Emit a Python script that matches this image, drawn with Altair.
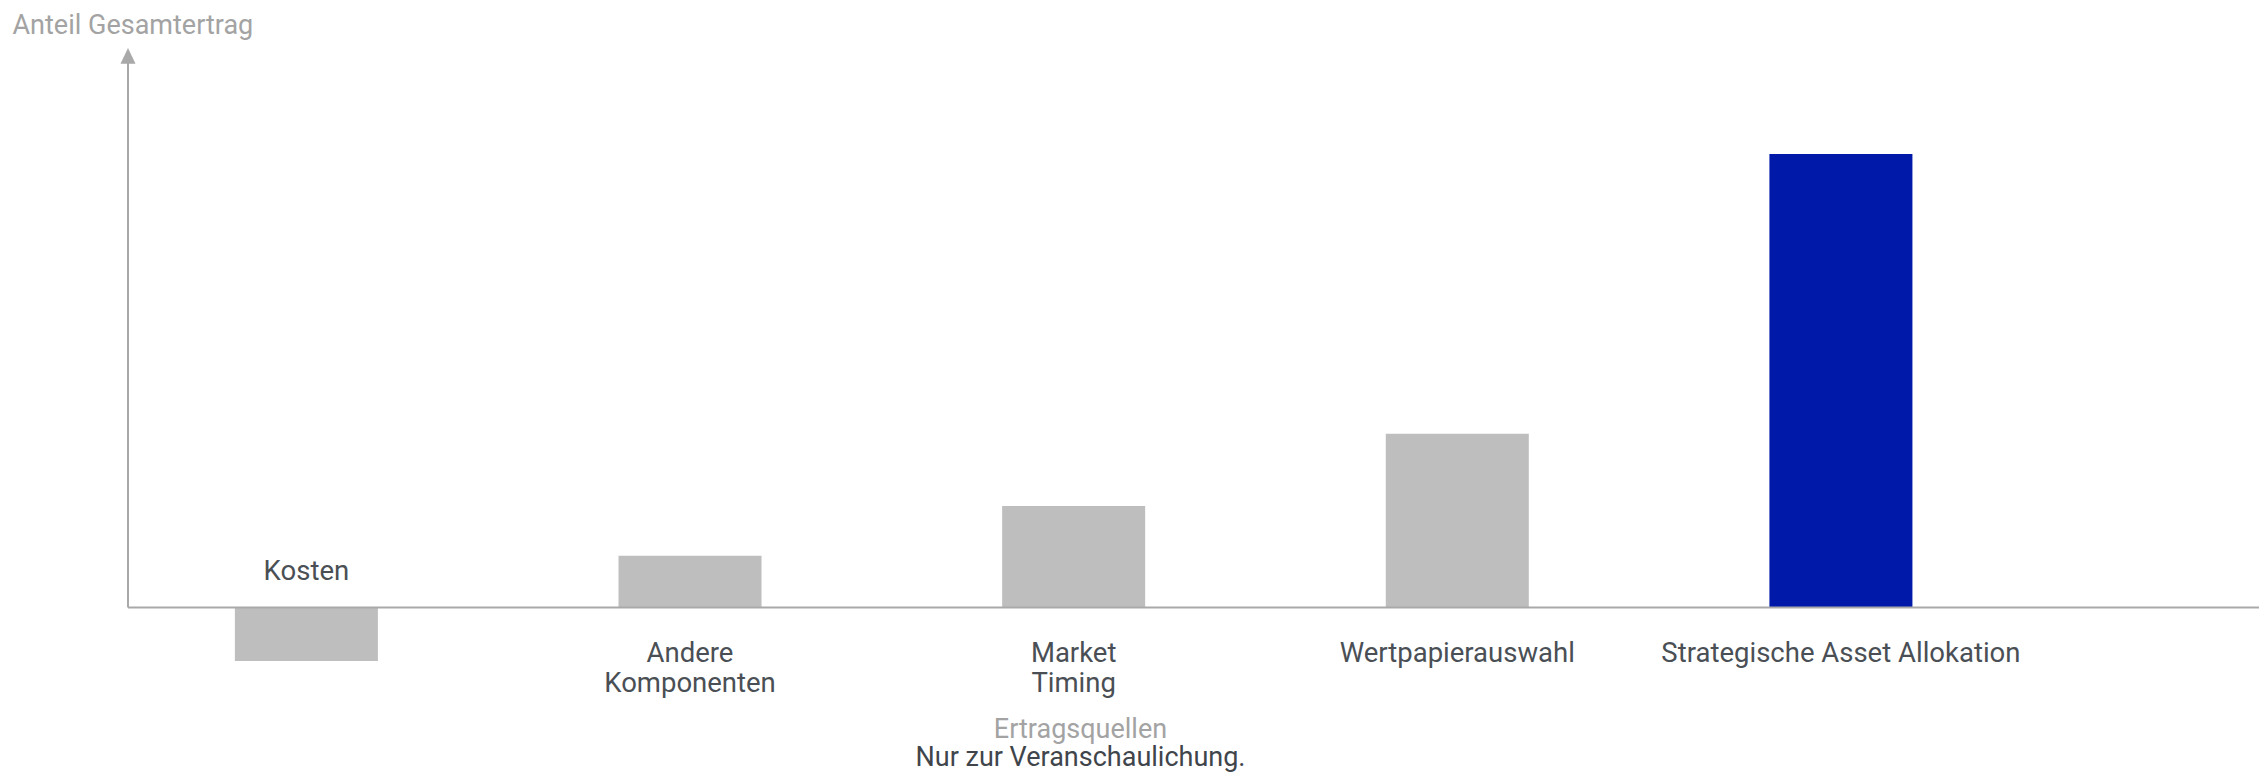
import altair as alt
import pandas as pd

# ---- data ----
categories = ["Kosten", "Andere Komponenten", "Market Timing", "Wertpapierauswahl", "Strategische Asset Allokation"]
labels = ["Kosten", "Andere\nKomponenten", "Market\nTiming", "Wertpapierauswahl", "Strategische Asset Allokation"]
values = [-11.8, 11.4, 22.4, 38.3, 100.0]
groups = ["other", "other", "other", "other", "highlight"]

y_title = "Anteil Gesamtertrag"
x_title = "Ertragsquellen"
note = "Nur zur Veranschaulichung."

Y_MIN, Y_MAX = -20.4, 123.4

df = pd.DataFrame({"cat": categories, "label": labels, "value": values, "group": groups})

W, H = 2131, 652
FONT = "Roboto"
LABEL_COLOR = "#4a4f55"
GRAY_TEXT = "#a3a3a3"
AXIS_COLOR = "#a9a9a9"

x_enc = alt.X("cat:N", sort=categories, axis=None,
              scale=alt.Scale(paddingInner=0.6272, paddingOuter=0.591, align=0.2357))
y_scale = alt.Scale(domain=[Y_MIN, Y_MAX], nice=False, zero=False)

base = alt.Chart(df)

bars = base.mark_bar().encode(
    x=x_enc,
    y=alt.Y("value:Q", scale=y_scale,
            axis=alt.Axis(title=y_title, labels=False, ticks=False, domain=False, grid=False,
                          titleAngle=0, titleX=-116, titleY=-15, titleAlign="left",
                          titleBaseline="alphabetic", titleFontSize=27, titleFont=FONT,
                          titleFontWeight="normal", titleColor=GRAY_TEXT)),
    y2=alt.datum(0),
    color=alt.Color("group:N", scale=alt.Scale(domain=["other", "highlight"],
                                               range=["#bebebe", "#0019a8"]), legend=None),
)

xaxis = base.mark_rule(color=AXIS_COLOR, strokeWidth=2).encode(
    y=alt.datum(0), x=alt.value(0), x2=alt.value(W)
).transform_filter("datum.cat == 'Kosten'")

yaxis = base.mark_rule(color=AXIS_COLOR, strokeWidth=2).encode(
    x=alt.value(0), y=alt.datum(0), y2=alt.datum(Y_MAX - 3)
).transform_filter("datum.cat == 'Kosten'")

arrow = base.mark_point(shape="M0,0L1,2.1L-1,2.1Z", size=225, filled=True, color=AXIS_COLOR,
                        opacity=1, strokeWidth=0).encode(
    x=alt.value(0), y=alt.datum(Y_MAX)
).transform_filter("datum.cat == 'Kosten'")

lab_pos = base.mark_text(font=FONT, fontSize=27.5, color=LABEL_COLOR, baseline="alphabetic",
                         align="center", dy=54, lineBreak="\n", lineHeight=30).encode(
    x=x_enc, y=alt.datum(0), text="label:N"
).transform_filter("datum.value >= 0")

lab_neg = base.mark_text(font=FONT, fontSize=27.5, color=LABEL_COLOR, baseline="alphabetic",
                         align="center", dy=-28, lineBreak="\n", lineHeight=30).encode(
    x=x_enc, y=alt.datum(0), text="label:N"
).transform_filter("datum.value < 0")

chart = alt.layer(bars, xaxis, yaxis, arrow, lab_pos, lab_neg).properties(
    width=W, height=H,
    autosize=alt.AutoSizeParams(type="none"),
    padding={"left": 128, "top": 48, "right": 0, "bottom": 74},
    title=alt.Title(x_title, subtitle=note, orient="bottom", anchor="middle", dx=-113,
                    offset=17, font=FONT, fontSize=27, fontWeight="normal", color=GRAY_TEXT,
                    subtitleFont=FONT, subtitleFontSize=27, subtitleColor="#40454b",
                    subtitlePadding=1),
).configure(background="white").configure_view(stroke=None)

chart.save("out.html", embed_options={"renderer": "svg", "actions": False})
